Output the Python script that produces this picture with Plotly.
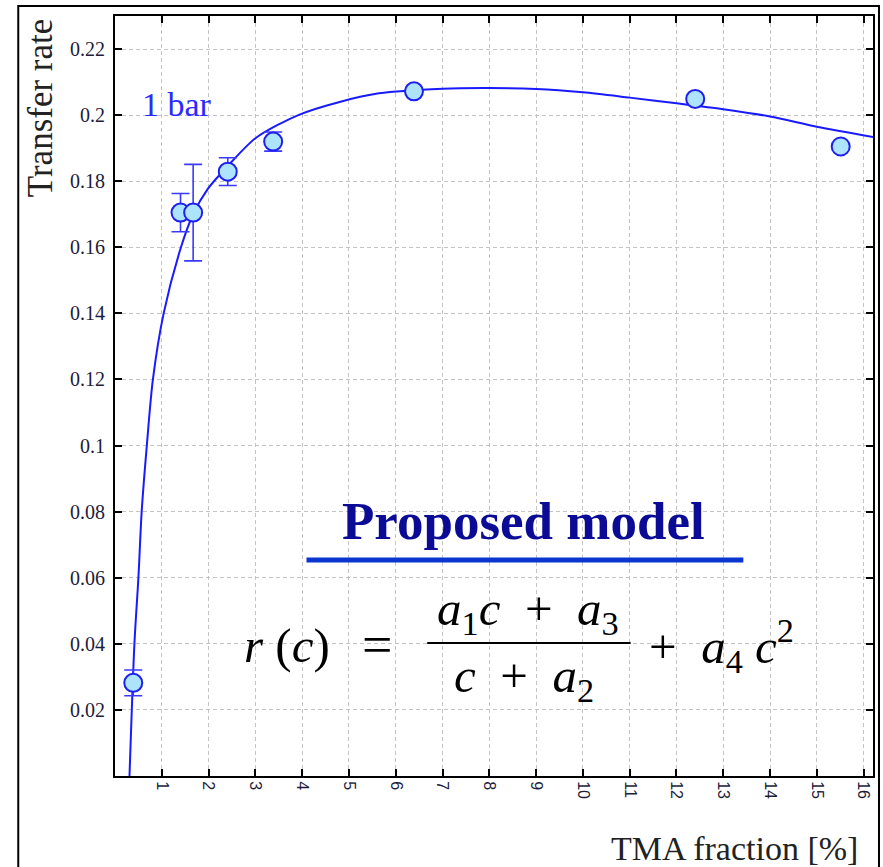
import plotly.graph_objects as go

# Measured transfer rate versus TMA fraction (1 bar)
tma_fraction = [0.39, 1.40, 1.67, 2.41, 3.38, 6.39, 12.40, 15.51]
transfer_rate = [0.0282, 0.1705, 0.1705, 0.1829, 0.1920, 0.2072, 0.2049, 0.1905]
rate_error = [0.0039, 0.0058, 0.0146, 0.0042, 0.0029, None, None, None]

# Model curve r(c), sampled along the drawn fit
curve_c = [0.31, 0.415, 0.50, 0.57, 0.68, 0.81, 1.04, 1.41, 1.67, 1.98, 2.41,
           3.01, 3.93, 4.80, 5.64, 7.0, 8.0, 9.0, 10.0, 11.0, 12.0, 13.0,
           14.0, 15.0, 16.2]
curve_r = [0.0, 0.04, 0.06, 0.08, 0.10, 0.12, 0.14, 0.16, 0.170, 0.1776, 0.1846,
           0.1931, 0.2001, 0.2040, 0.2066, 0.2080, 0.2082, 0.2079, 0.2069, 0.2053,
           0.2036, 0.2018, 0.1996, 0.1965, 0.1934]

x_ticks = list(range(1, 17))
y_ticks = [0.02, 0.04, 0.06, 0.08, 0.10, 0.12, 0.14, 0.16, 0.18, 0.20, 0.22]
y_ticktext = ["0.02", "0.04", "0.06", "0.08", "0.1", "0.12", "0.14", "0.16",
              "0.18", "0.2", "0.22"]

SERIF = "Liberation Serif"
W, H = 883, 867
ML, MR, MT, MB = 115, 8, 16, 91
PW, PH = W - ML - MR, H - MT - MB


def px(x):
    return (x - ML) / PW


def py(y):
    return (H - MB - y) / PH


fig = go.Figure()

fig.add_trace(go.Scatter(
    x=curve_c, y=curve_r, mode="lines",
    line=dict(color="#1a1aff", width=2, shape="spline", smoothing=0.8),
    hoverinfo="skip", showlegend=False,
))

fig.add_trace(go.Scatter(
    x=tma_fraction, y=transfer_rate, mode="markers",
    marker=dict(size=18, color="#aee4fb", line=dict(color="#1e1ef0", width=2)),
    error_y=dict(type="data", array=rate_error, visible=True,
                 color="#3a3aff", thickness=1.6, width=9),
    showlegend=False,
))

grid = dict(showgrid=True, gridcolor="#c4c4c4", gridwidth=1, griddash="4px,3px")

fig.update_xaxes(
    range=[0, 16.2], tickvals=x_ticks, ticktext=[str(v) for v in x_ticks],
    tickangle=90, ticks="inside", ticklen=7, tickwidth=1.5, tickcolor="black",
    showline=True, linecolor="black", linewidth=2, mirror="ticks",
    tickfont=dict(family="Liberation Sans", size=16, color="#1c1c3c"),
    zeroline=False, **grid,
)
fig.update_yaxes(
    range=[0, 0.23], tickvals=y_ticks, ticktext=y_ticktext,
    ticks="inside", ticklen=7, tickwidth=1.5, tickcolor="black",
    showline=True, linecolor="black", linewidth=2, mirror="ticks",
    tickfont=dict(family=SERIF, size=20, color="#1c1c3c"),
    ticklabelstandoff=4, zeroline=False, **grid,
)

annotations = [
    dict(text="Transfer rate", x=px(40), y=py(108), textangle=-90,
         font=dict(family=SERIF, size=35, color="#222222")),
    dict(text="TMA fraction [%]", x=px(862), y=py(848), xanchor="right",
         font=dict(family=SERIF, size=34, color="#222222")),
    dict(text="1 bar", x=px(140), y=py(104), xanchor="left",
         font=dict(family=SERIF, size=34, color="#2b2bff")),
    dict(text="<b>Proposed model</b>", x=px(525), y=py(521),
         font=dict(family=SERIF, size=53, color="#0b0b96")),
    dict(text="<i>r</i> (<i>c</i>)", x=px(242), y=py(645), xanchor="left",
         font=dict(family=SERIF, size=49, color="black")),
    dict(text="=", x=px(378), y=py(645),
         font=dict(family=SERIF, size=54, color="black")),
    dict(text="<i>a</i><sub>1</sub><i>c</i>  +  <i>a</i><sub>3</sub>",
         x=px(529), y=py(611),
         font=dict(family=SERIF, size=49, color="black")),
    dict(text="<i>c</i>  +  <i>a</i><sub>2</sub>", x=px(525), y=py(678),
         font=dict(family=SERIF, size=49, color="black")),
    dict(text="+  <i>a</i><sub>4</sub> <i>c</i><sup>2</sup>", x=px(648), y=py(645),
         xanchor="left", font=dict(family=SERIF, size=49, color="black")),
]
for a in annotations:
    a.setdefault("xanchor", "center")
    fig.add_annotation(xref="paper", yref="paper", yanchor="middle",
                       showarrow=False, **a)

shapes = [
    # outer frame
    dict(type="rect", x0=px(18), x1=px(881), y0=py(880), y1=py(6),
         line=dict(color="black", width=2)),
    # underline of the heading
    dict(type="line", x0=px(307), x1=px(745), y0=py(560), y1=py(560),
         line=dict(color="#0a35d0", width=5)),
    # fraction bar
    dict(type="line", x0=px(428), x1=px(632), y0=py(643), y1=py(643),
         line=dict(color="black", width=2)),
]
for s in shapes:
    fig.add_shape(xref="paper", yref="paper", layer="above", **s)

fig.update_layout(
    width=W, height=H, margin=dict(l=ML, r=MR, t=MT, b=MB),
    paper_bgcolor="white", plot_bgcolor="white",
    font=dict(family=SERIF), showlegend=False,
)

fig.write_html("out.html")
